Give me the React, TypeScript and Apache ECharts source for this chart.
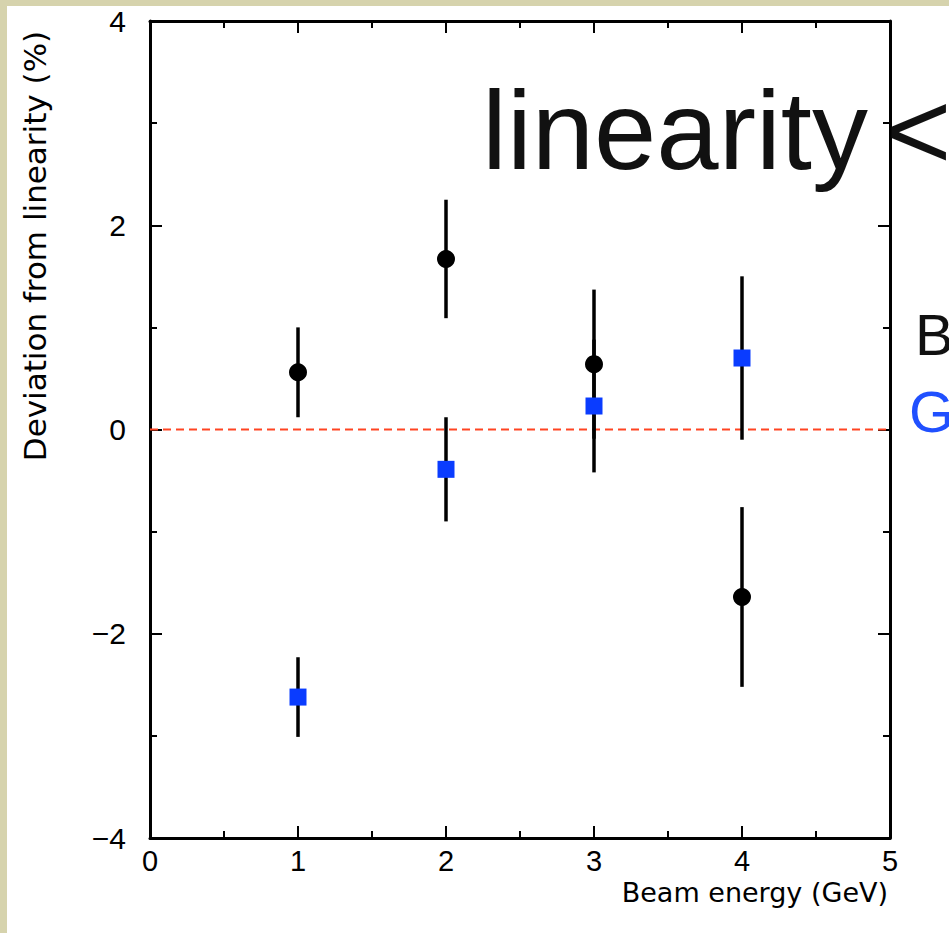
import React, { useEffect, useRef } from "react";
import * as echarts from "echarts";

// ---- data ----
const energies = [1, 2, 3, 4];
const blackValues = [0.56, 1.67, 0.64, -1.64];
const blackErrors = [0.44, 0.58, 0.73, 0.88];
const blueValues = [-2.62, -0.39, 0.23, 0.7];
const blueErrors = [0.39, 0.51, 0.65, 0.8];
const xTicks = [0, 1, 2, 3, 4, 5];
const yTickLabels: Record<string, string> = { "-4": "\u22124", "-2": "\u22122", "0": "0", "2": "2", "4": "4" };
const referenceLine = [[0, 0], [5, 0]];
const xTitle = "Beam energy (GeV)";
const yTitle = "Deviation from linearity (%)";
const slideWord = "linearity";
const slideSymbol = "<";
const legendB = "B";
const legendG = "G";

const FRAME = "#000";
const TICK_FONT = "Liberation Sans";
const TITLE_FONT = "DejaVu Sans";

export default function App() {
  const ref = useRef<HTMLDivElement>(null);
  useEffect(() => {
    if (!ref.current) return;
    const chart = echarts.init(ref.current, null, { renderer: "svg" });

    const errData = (vals: number[], errs: number[]) =>
      energies.map((x, i) => [x, vals[i] - errs[i], vals[i] + errs[i]]);

    const renderBar = (params: any, api: any) => {
      const x = api.value(0);
      const lo = api.coord([x, api.value(1)]);
      const hi = api.coord([x, api.value(2)]);
      return {
        type: "line",
        shape: { x1: lo[0], y1: lo[1], x2: hi[0], y2: hi[1] },
        style: { stroke: "#000", lineWidth: 3.5 },
      };
    };

    const axisCommon = {
      axisLine: { show: true, onZero: false, lineStyle: { color: FRAME, width: 3 } },
      axisTick: { show: true, inside: true, length: 12, lineStyle: { color: FRAME, width: 2 } },
      minorTick: { show: true, splitNumber: 2, length: 7, lineStyle: { color: FRAME, width: 2 } },
      splitLine: { show: false },
      minorSplitLine: { show: false },
    };

    chart.setOption({
      animation: false,
      backgroundColor: "transparent",
      grid: { left: 150, right: 59, top: 21, bottom: 95, containLabel: false },
      xAxis: [
        {
          type: "value",
          min: xTicks[0],
          max: xTicks[xTicks.length - 1],
          interval: 1,
          position: "bottom",
          ...axisCommon,
          axisLabel: {
            show: true,
            color: "#000",
            fontSize: 29,
            fontFamily: TICK_FONT,
            margin: 8,
          },
        },
        {
          type: "value",
          min: xTicks[0],
          max: xTicks[xTicks.length - 1],
          interval: 1,
          position: "top",
          ...axisCommon,
          axisLabel: { show: false },
        },
      ],
      yAxis: [
        {
          type: "value",
          min: -4,
          max: 4,
          interval: 2,
          position: "left",
          ...axisCommon,
          axisLabel: {
            show: true,
            color: "#000",
            fontSize: 30,
            fontFamily: TICK_FONT,
            margin: 24,
            formatter: (v: number) => yTickLabels[String(v)] ?? String(v),
          },
        },
        {
          type: "value",
          min: -4,
          max: 4,
          interval: 2,
          position: "right",
          ...axisCommon,
          axisLabel: { show: false },
        },
      ],
      series: [
        {
          type: "line",
          data: referenceLine,
          symbol: "none",
          silent: true,
          z: 1,
          lineStyle: { color: "#ff4422", width: 2, type: [8, 5] },
        },
        {
          type: "custom",
          renderItem: renderBar,
          data: errData(blackValues, blackErrors),
          encode: { x: 0, y: [1, 2] },
          z: 3,
        },
        {
          type: "custom",
          renderItem: renderBar,
          data: errData(blueValues, blueErrors),
          encode: { x: 0, y: [1, 2] },
          z: 3,
        },
        {
          type: "scatter",
          data: energies.map((x, i) => [x, blackValues[i]]),
          symbol: "circle",
          symbolSize: 18,
          itemStyle: { color: "#000", opacity: 1 },
          z: 5,
        },
        {
          type: "scatter",
          data: energies.map((x, i) => [x, blueValues[i]]),
          symbol: "rect",
          symbolSize: 17,
          itemStyle: { color: "#0a3cff", opacity: 1 },
          z: 6,
        },
      ],
      graphic: [
        {
          type: "text",
          x: 888,
          y: 892,
          style: {
            text: xTitle,
            fontSize: 27,
            fontFamily: TITLE_FONT,
            fill: "#000",
            align: "right",
            verticalAlign: "middle",
          },
        },
        {
          type: "text",
          x: 35,
          y: 246,
          rotation: Math.PI / 2,
          style: {
            text: yTitle,
            fontSize: 31,
            fontFamily: TITLE_FONT,
            fill: "#000",
            align: "center",
            verticalAlign: "middle",
          },
        },
        {
          type: "text",
          x: 482,
          y: 130,
          z: 10,
          style: {
            text: slideWord,
            fontSize: 112,
            fontFamily: "Liberation Sans",
            fill: "#111",
            align: "left",
            verticalAlign: "middle",
          },
        },
        {
          type: "text",
          x: 886,
          y: 130,
          z: 10,
          style: {
            text: slideSymbol,
            fontSize: 112,
            fontFamily: "Liberation Sans",
            fill: "#111",
            align: "left",
            verticalAlign: "middle",
          },
        },
        {
          type: "text",
          x: 915,
          y: 334,
          z: 10,
          style: {
            text: legendB,
            fontSize: 58,
            fontFamily: "Liberation Sans",
            fill: "#111",
            align: "left",
            verticalAlign: "middle",
          },
        },
        {
          type: "text",
          x: 909,
          y: 411,
          z: 10,
          style: {
            text: legendG,
            fontSize: 58,
            fontFamily: "Liberation Sans",
            fill: "#2050ff",
            align: "left",
            verticalAlign: "middle",
          },
        },
      ],
    });
    return () => chart.dispose();
  }, []);

  return (
    <div
      style={{
        position: "fixed",
        left: 0,
        top: 0,
        width: 949,
        height: 933,
        overflow: "hidden",
        background: "#d6d3ad",
      }}
    >
      <div
        style={{
          position: "absolute",
          left: 7,
          top: 6,
          right: 0,
          bottom: 0,
          background: "#ffffff",
        }}
      />
      <div ref={ref} style={{ position: "absolute", left: 0, top: 0, width: 949, height: 933 }} />
    </div>
  );
}
